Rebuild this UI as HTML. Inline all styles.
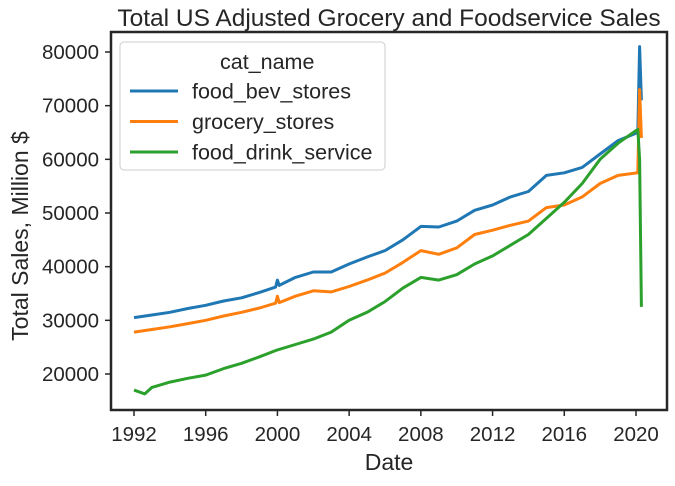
<!DOCTYPE html>
<html><head><meta charset="utf-8"><style>
body{margin:0;background:#fff;font-family:"Liberation Sans","DejaVu Sans",sans-serif}
svg text{font-family:"Liberation Sans","DejaVu Sans",sans-serif;fill:#262626}
</style></head><body>
<svg id="chart" width="675" height="481" xmlns="http://www.w3.org/2000/svg"></svg>
<script>
const seriesNames=["food_bev_stores","grocery_stores","food_drink_service"];
const colors=["#1f77b4","#ff7f0e","#2ca02c"];
const xTicks=[1992,1996,2000,2004,2008,2012,2016,2020];
const yTicks=[20000,30000,40000,50000,60000,70000,80000];
const foodBevYears=[1992,1993,1994,1995,1996,1997,1998,1999,1999.9,2000,2000.1,2001,2002,2003,2004,2005,2006,2007,2008,2009,2010,2011,2012,2013,2014,2015,2016,2017,2018,2019,2020.1,2020.2,2020.3];
const foodBevVals=[30500,31000,31500,32200,32800,33600,34200,35200,36200,37500,36500,38000,39000,39000,40500,41800,43000,45000,47500,47400,48500,50500,51500,53000,54000,57000,57500,58500,61000,63500,65000,81000,71000];
const groceryYears=[1992,1993,1994,1995,1996,1997,1998,1999,1999.9,2000,2000.1,2001,2002,2003,2004,2005,2006,2007,2008,2009,2010,2011,2012,2013,2014,2015,2016,2017,2018,2019,2020.1,2020.2,2020.3];
const groceryVals=[27800,28300,28800,29400,30000,30800,31500,32300,33200,34500,33300,34500,35500,35300,36300,37500,38800,40800,43000,42300,43500,46000,46800,47700,48500,51000,51500,53000,55500,57000,57500,73000,64000];
const drinkYears=[1992,1992.6,1993,1994,1995,1996,1997,1998,1999,2000,2001,2002,2003,2004,2005,2006,2007,2008,2009,2010,2011,2012,2013,2014,2015,2016,2017,2018,2019,2020.1,2020.2,2020.3];
const drinkVals=[17000,16300,17500,18500,19200,19800,21000,22000,23200,24500,25500,26500,27800,30000,31500,33500,36000,38000,37500,38500,40500,42000,44000,46000,49000,52000,55500,60000,63000,65600,60000,32500];
const years=[foodBevYears,groceryYears,drinkYears];
const vals=[foodBevVals,groceryVals,drinkVals];
const L=111,R=667,T=32,B=410;
const X=y=>134+(y-1992)*(502/28);
const Y=v=>374-(v-20000)*(322/60000);
const svg=document.getElementById('chart');
const NS='http://www.w3.org/2000/svg';
function mk(tag,attrs,txt){const e=document.createElementNS(NS,tag);for(const k in attrs)e.setAttribute(k,attrs[k]);if(txt!==undefined)e.textContent=txt;svg.appendChild(e);return e;}
for(let s=0;s<3;s++){
 const d=years[s].map((y,i)=>(i?'L':'M')+X(y).toFixed(1)+','+Y(vals[s][i]).toFixed(1)).join(' ');
 const p=mk('path',{d:d,fill:'none',stroke:colors[s],'stroke-width':3,'stroke-linejoin':'round'});
 
 
}
const fr=mk('rect',{x:L,y:T,width:R-L,height:B-T,fill:'none',stroke:'#262626','stroke-width':2.5});


xTicks.forEach(t=>{
 mk('line',{x1:X(t),x2:X(t),y1:B,y2:B+6,stroke:'#262626','stroke-width':1.5});
 const e=mk('text',{x:X(t),y:B+31,'text-anchor':'middle','font-size':20.5},t);
 
 
});
yTicks.forEach(t=>{
 mk('line',{x1:L-6,x2:L,y1:Y(t),y2:Y(t),stroke:'#262626','stroke-width':1.5});
 const e=mk('text',{x:L-12,y:Y(t)+7,'text-anchor':'end','font-size':20.5},t);
 
 
});
let e=mk('text',{x:389,y:26,'text-anchor':'middle','font-size':24.5},'Total US Adjusted Grocery and Foodservice Sales');

e=mk('text',{x:389,y:470,'text-anchor':'middle','font-size':23},'Date');

e=mk('text',{x:28,y:236,'text-anchor':'middle','font-size':23,transform:'rotate(-90 28 236)'},'Total Sales, Million $');

e=mk('rect',{x:120,y:42,width:265,height:128,rx:4,fill:'#fff','fill-opacity':0.8,stroke:'#ccc','stroke-width':1});

e=mk('text',{x:220,y:69,'font-size':21.5},'cat_name');

seriesNames.forEach((n,i)=>{
 const y=91+i*30.5;
 mk('line',{x1:130,x2:178,y1:y,y2:y,stroke:colors[i],'stroke-width':3});
 const t=mk('text',{x:192,y:y+7.5,'font-size':21.5},n);
 
 
});
</script>
</body></html>
